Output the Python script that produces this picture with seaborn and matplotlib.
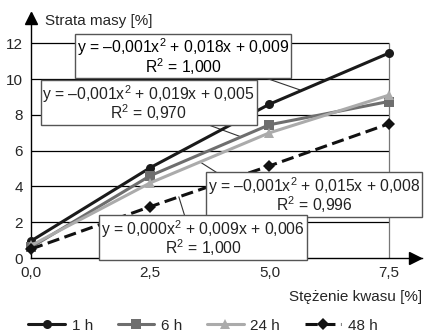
import pandas as pd
import matplotlib
matplotlib.use("Agg")
import matplotlib.pyplot as plt
import seaborn as sns

# data
stezenie = [0.0, 2.5, 5.0, 7.5]
strata_1h = [0.95, 5.05, 8.6, 11.45]
strata_6h = [0.6, 4.6, 7.45, 8.75]
strata_24h = [0.7, 4.2, 7.0, 9.1]
strata_48h = [0.5, 2.87, 5.15, 7.5]
serie = ["1 h", "6 h", "24 h", "48 h"]
x_labels = ["0,0", "2,5", "5,0", "7,5"]
rownania = [
    "y = \u20130,001x$^2$ + 0,018x + 0,009\nR$^2$ = 1,000",
    "y = \u20130,001x$^2$ + 0,019x + 0,005\nR$^2$ = 0,970",
    "y = \u20130,001x$^2$ + 0,015x + 0,008\nR$^2$ = 0,996",
    "y = 0,000x$^2$ + 0,009x + 0,006\nR$^2$ = 1,000",
]

sns.set_style("white")
plt.rcParams["font.family"] = ["Liberation Sans", "DejaVu Sans"]
plt.rcParams["font.size"] = 11
plt.rcParams["mathtext.fontset"] = "custom"
plt.rcParams["mathtext.rm"] = "Liberation Sans"
plt.rcParams["mathtext.it"] = "Liberation Sans:italic"
plt.rcParams["mathtext.default"] = "regular"

df = pd.DataFrame({
    "x": stezenie * 4,
    "y": strata_1h + strata_6h + strata_24h + strata_48h,
    "seria": [s for s in serie for _ in stezenie],
})

kolory = {"1 h": "#1a1a1a", "6 h": "#6e6e6e", "24 h": "#ababab", "48 h": "#111111"}
markery = {"1 h": "o", "6 h": "s", "24 h": "^", "48 h": "D"}

fig = plt.figure(figsize=(4.25, 3.34), dpi=100)
ax = fig.add_axes([31 / 425, 76 / 334, 391 / 425, 245 / 334])

for s in serie:
    d = df[df["seria"] == s]
    sns.lineplot(data=d, x="x", y="y", ax=ax, color=kolory[s], marker=markery[s],
                 markersize=6.5 if s != "48 h" else 6, markeredgewidth=0,
                 linewidth=2.2, label=s, legend=False, clip_on=False, zorder=5)
ax.lines[3].set_dashes((4, 1.8))

ax.set_xlim(0, 8.2)
ax.set_ylim(0, 13.7)
ax.hlines([2, 4, 6, 8, 10, 12], 0, 7.5, color="black", linewidth=0.9, zorder=1)
ax.vlines(7.5, 0, 12, color="#777777", linewidth=0.9, zorder=1)

for sp in ["top", "right"]:
    ax.spines[sp].set_visible(False)
for sp in ["left", "bottom"]:
    ax.spines[sp].set_color("black")
    ax.spines[sp].set_linewidth(1.0)
ax.plot([0], [13.4], marker="^", color="black", markersize=9, clip_on=False)
ax.plot([8.05], [0], marker=">", color="black", markersize=9, clip_on=False)

ax.set_xticks(stezenie)
ax.set_xticklabels(x_labels)
ax.set_yticks([0, 2, 4, 6, 8, 10, 12])
ax.tick_params(direction="out", length=4, width=0.9, color="black", pad=2, labelsize=11)
ax.set_xlabel("")
ax.set_ylabel("")

fig.text(45 / 425, 1 - 21 / 334, "Strata masy [%]", va="center", ha="left", fontsize=11)
fig.text(422 / 425, 1 - 297 / 334, "St\u0119\u017cenie kwasu [%]", va="center", ha="right", fontsize=11)

# boxes with fitted equations and leader lines
pozycje = [(3.19, 11.26), (2.47, 8.68), (5.94, 3.53), (3.61, 1.12)]
linie = [((4.84, 10.14), (5.64, 9.4)),
         ((3.54, 7.62), (4.38, 6.8)),
         ((3.54, 5.38), (4.0, 4.6)),
         ((3.10, 3.42), (3.23, 2.30))]
for (p0, p1) in linie:
    ax.plot([p0[0], p1[0]], [p0[1], p1[1]], color="#333333", linewidth=0.8, zorder=3, clip_on=False)
for i, (tekst, (xt, yt)) in enumerate(zip(rownania, pozycje)):
    ax.text(xt, yt, tekst, ha="center", va="center", multialignment="center",
            fontsize=11.3, linespacing=0.85, zorder=6, clip_on=False,
            color="black" if i == 0 else "#222222",
            bbox=dict(boxstyle="square,pad=0.12", facecolor="white", edgecolor="#555555", linewidth=1))

handles = ax.lines[:4]
fig.legend(handles, serie, loc="center", bbox_to_anchor=(0.478, 0.025), ncol=4, frameon=False,
           handlelength=2.4, columnspacing=1.6, handletextpad=0.45, fontsize=11)

fig.savefig("out.png", dpi=100)
